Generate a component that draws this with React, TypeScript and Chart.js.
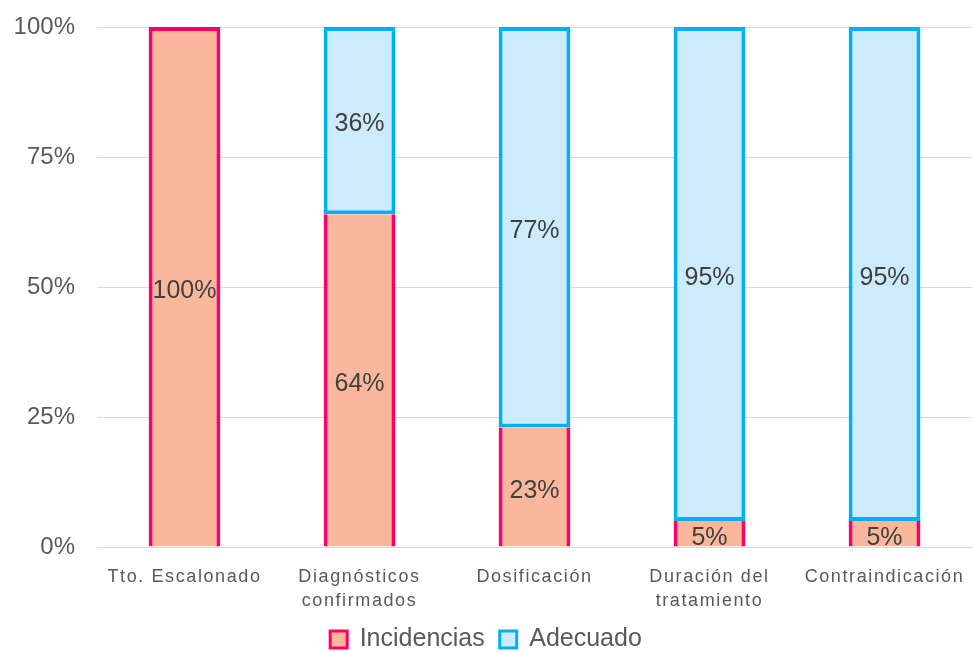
import React, { useEffect, useRef } from "react";
import { Chart, registerables } from "chart.js";

Chart.register(...registerables);

const categories: (string | string[])[] = [
  "Tto. Escalonado",
  ["Diagnósticos", "confirmados"],
  "Dosificación",
  ["Duración del", "tratamiento"],
  "Contraindicación",
];
const incidencias = [100, 64, 23, 5, 5];
const adecuado = [0, 36, 77, 95, 95];
const yTicks = [0, 25, 50, 75, 100];

const FONT = "'Liberation Sans', Arial, sans-serif";

const labelPlugin = {
  id: "barLabels",
  beforeDraw(chart: any) {
    const sx = chart.scales.x;
    if (sx && !sx.__spaced) {
      const orig = sx.drawLabels.bind(sx);
      sx.drawLabels = (area: any) => {
        const c = chart.ctx;
        c.save();
        (c as any).letterSpacing = "1.6px";
        orig(area);
        c.restore();
      };
      sx.__spaced = true;
    }
  },
  afterDatasetsDraw(chart: any) {
    const ctx = chart.ctx;
    ctx.save();
    ctx.font = `25px ${FONT}`;
    ctx.fillStyle = "#404040";
    ctx.textAlign = "center";
    ctx.textBaseline = "middle";
    chart.data.datasets.forEach((ds: any, di: number) => {
      const meta = chart.getDatasetMeta(di);
      meta.data.forEach((el: any, i: number) => {
        const v = ds.data[i];
        if (!v) return;
        const { x, y, base } = el.getProps(["x", "y", "base"], true);
        ctx.fillText(`${v}%`, x, (y + base) / 2 + 4);
      });
    });
    ctx.restore();
  },
};

export default function App() {
  const ref = useRef<HTMLCanvasElement>(null);
  useEffect(() => {
    if (!ref.current) return;
    const chart = new Chart(ref.current, {
      type: "bar",
      data: {
        labels: categories,
        datasets: [
          {
            label: "Incidencias",
            data: incidencias,
            backgroundColor: "#F9B89B",
            borderColor: "#FF0066",
            borderWidth: (c: any) =>
              adecuado[c.dataIndex] > 0
                ? { top: 0, left: 4, right: 4, bottom: 0 }
                : { top: 4, left: 4, right: 4, bottom: 0 },
            borderSkipped: false,
            categoryPercentage: 1,
            barPercentage: 0.41,
          },
          {
            label: "Adecuado",
            data: adecuado,
            backgroundColor: "#CCEBFB",
            borderColor: "#00B0F0",
            borderWidth: 4,
            borderSkipped: false,
            categoryPercentage: 1,
            barPercentage: 0.41,
          },
        ] as any,
      },
      options: {
        animation: false,
        responsive: false,
        layout: { padding: { top: 27, right: 1, left: 0, bottom: -10 } },
        plugins: {
          legend: {
            position: "bottom",
            labels: {
              boxWidth: 17,
              boxHeight: 17,
              padding: 15,
              color: "#595959",
              font: { family: FONT, size: 25 },
              generateLabels: (chart: any) =>
                chart.data.datasets.map((ds: any, i: number) => ({
                  text: ds.label,
                  fillStyle: ds.backgroundColor,
                  strokeStyle: ds.borderColor,
                  lineWidth: 3,
                  fontColor: "#595959",
                  hidden: false,
                  datasetIndex: i,
                })),
            },
          },
          tooltip: { enabled: false },
        },
        scales: {
          x: {
            stacked: true,
            afterFit: (s: any) => {
              s.height = 65;
            },
            grid: { display: false },
            border: { display: true, color: "#D9D9D9", width: 1 },
            ticks: {
              color: "#595959",
              font: { family: FONT, size: 18, lineHeight: 1.33 },
              maxRotation: 0,
              autoSkip: false,
              padding: 10,
            },
          },
          y: {
            stacked: true,
            min: 0,
            max: 100,
            afterFit: (s: any) => {
              s.width = 97;
            },
            afterBuildTicks: (s: any) => {
              s.ticks = yTicks.map((v) => ({ value: v }));
            },
            grid: {
              color: "#D9D9D9",
              drawTicks: true,
              tickLength: 22,
              tickColor: "rgba(0,0,0,0)",
            },
            border: { display: false },
            ticks: {
              color: "#595959",
              font: { family: FONT, size: 24 },
              padding: 0,
              callback: (v: any) => `${v}%`,
            },
          },
        },
      },
      plugins: [labelPlugin],
    });
    return () => chart.destroy();
  }, []);
  return (
    <div style={{ position: "fixed", left: 0, top: 0, width: 973, height: 652, background: "#fff" }}>
      <canvas ref={ref} width={973} height={652} style={{ width: 973, height: 652 }} />
    </div>
  );
}
